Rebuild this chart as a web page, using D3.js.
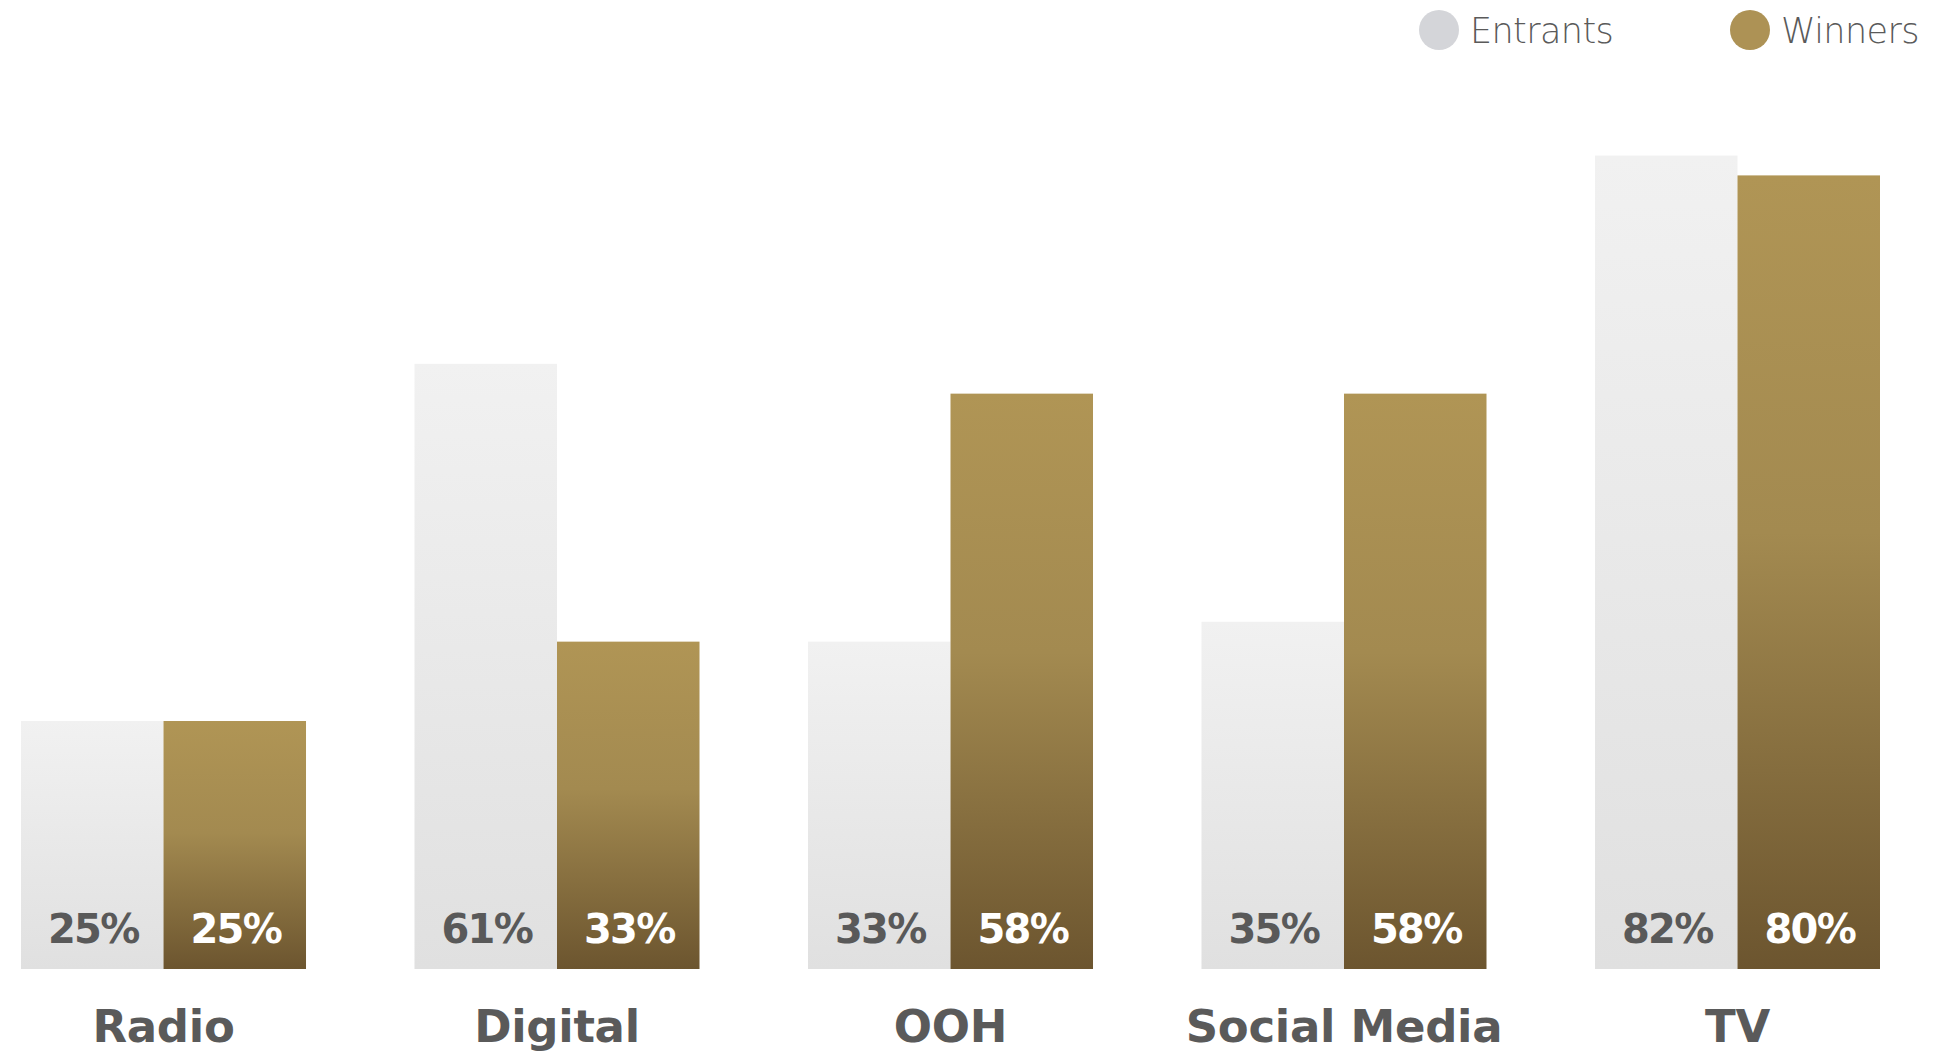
<!DOCTYPE html>
<html><head><meta charset="utf-8">
<script src="https://cdn.jsdelivr.net/npm/d3@7"></script>
<style>html,body{margin:0;padding:0;background:#fff;}</style>
</head><body>
<svg id="chart" width="1954" height="1054"></svg>
<script>
const categories = ["Radio", "Digital", "OOH", "Social Media", "TV"];
const seriesNames = ["Entrants", "Winners"];
const entrants = [25, 61, 33, 35, 82];
const winners = [25, 33, 58, 58, 80];

const svg = d3.select("#chart");
const baseY = 969;
const y = d3.scaleLinear().domain([0, 100]).range([baseY, baseY - 992]);
const x = d3.scaleBand().domain(categories).range([21, 1880]).paddingInner(0.2757).paddingOuter(0);
const xs = d3.scaleBand().domain(seriesNames).range([0, x.bandwidth()]).padding(0);

const defs = svg.append("defs");
const gE = defs.append("linearGradient").attr("id", "gEnt").attr("x1", 0).attr("y1", 0).attr("x2", 0).attr("y2", 1);
gE.append("stop").attr("offset", "0%").attr("stop-color", "#f1f1f1");
gE.append("stop").attr("offset", "100%").attr("stop-color", "#e0e0e0");
const gW = defs.append("linearGradient").attr("id", "gWin").attr("x1", 0).attr("y1", 0).attr("x2", 0).attr("y2", 1);
gW.append("stop").attr("offset", "0%").attr("stop-color", "#b09555");
gW.append("stop").attr("offset", "45%").attr("stop-color", "#a38a50");
gW.append("stop").attr("offset", "100%").attr("stop-color", "#6c552f");

const rows = categories.map((c, i) => ({cat: c, vals: [
  {s: "Entrants", v: entrants[i]}, {s: "Winners", v: winners[i]}]}));

const g = svg.selectAll("g.grp").data(rows).join("g").attr("class", "grp")
  .attr("transform", d => `translate(${x(d.cat)},0)`);

g.selectAll("rect").data(d => d.vals).join("rect")
  .attr("x", d => xs(d.s)).attr("width", xs.bandwidth())
  .attr("y", d => y(d.v)).attr("height", d => y(0) - y(d.v))
  .attr("fill", d => d.s === "Entrants" ? "url(#gEnt)" : "url(#gWin)");

g.selectAll("text.val").data(d => d.vals).join("text").attr("class", "val")
  .attr("x", d => xs(d.s) + xs.bandwidth() / 2 + 1).attr("y", baseY - 26)
  .attr("text-anchor", "middle")
  .style("font-family", "'DejaVu Sans', sans-serif").style("font-weight", "bold")
  .style("font-size", "40px").style("letter-spacing", "-1.8px")
  .attr("fill", d => d.s === "Entrants" ? "#595959" : "#ffffff")
  .text(d => d.v + "%");

g.append("text").attr("class", "cat")
  .attr("x", x.bandwidth() / 2).attr("y", 1042)
  .attr("text-anchor", "middle")
  .style("font-family", "'DejaVu Sans', sans-serif").style("font-weight", "bold")
  .style("font-size", "45px").style("letter-spacing", "-0.3px")
  .attr("fill", "#5a5a5a")
  .text(d => d.cat);

// legend
const legendData = [
  {name: "Entrants", color: "#d4d5d9", cx: 1439},
  {name: "Winners", color: "#ad9255", cx: 1750}
];
const lg = svg.selectAll("g.leg").data(legendData).join("g").attr("class", "leg");
lg.append("circle").attr("cx", d => d.cx).attr("cy", 30).attr("r", 20).attr("fill", d => d.color);
lg.append("text").attr("x", d => d.cx + 31).attr("y", 43)
  .style("font-family", "'DejaVu Sans', sans-serif").style("font-weight", "300")
  .style("font-size", "35px").style("letter-spacing", "-0.6px").attr("fill", "#5a5a5a")
  .text(d => d.name);
</script>
</body></html>
